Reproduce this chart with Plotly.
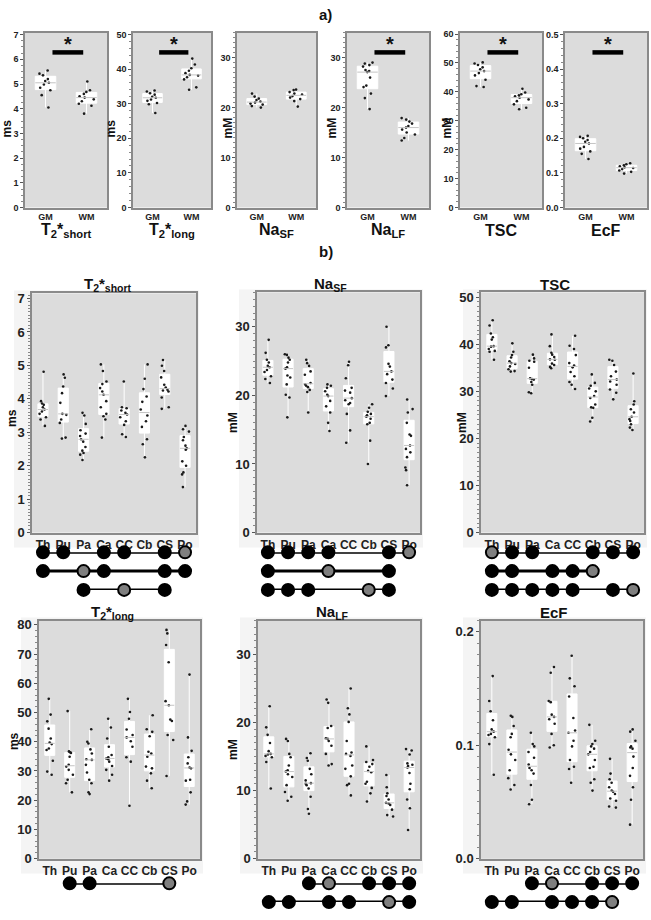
import numpy as np
import plotly.graph_objects as go

W, H = 651, 920

regions = ["Th", "Pu", "Pa", "Ca", "CC", "Cb", "CS", "Po"]
tissues = ["GM", "WM"]

# ---------------- a) GM vs WM ----------------
a_t2short = [[5.55, 5.42, 5.35, 5.2, 5.12, 5.05, 4.98, 4.85, 4.75, 4.55, 4.05],
             [5.1, 4.75, 4.68, 4.6, 4.5, 4.45, 4.38, 4.3, 4.2, 4.12, 3.8]]
a_t2long = [[33.8, 33.5, 33.0, 32.6, 32.0, 31.7, 31.2, 30.8, 30.2, 29.8, 27.3],
            [43.0, 41.3, 40.2, 39.5, 38.8, 38.3, 38.1, 37.6, 37.0, 34.7, 34.0]]
a_nasf = [[22.8, 22.2, 21.8, 21.5, 21.2, 21.0, 20.8, 20.6, 20.3, 20.0],
          [23.6, 23.5, 23.1, 22.8, 22.6, 22.3, 22.0, 21.7, 21.3, 20.2]]
a_nalf = [[29.0, 28.8, 28.5, 28.2, 27.5, 27.3, 27.1, 26.0, 24.4, 24.1, 22.8, 21.9, 19.7],
          [17.9, 17.6, 17.2, 16.8, 16.3, 16.0, 15.6, 15.0, 14.6, 13.9, 13.4]]
a_tsc = [[50.2, 49.8, 49.3, 48.5, 47.8, 47.2, 46.5, 45.7, 44.2, 42.0, 41.7],
         [41.1, 39.8, 39.2, 38.8, 38.5, 38.0, 37.4, 36.8, 35.7, 34.5, 34.0]]
a_ecf = [[0.207, 0.204, 0.200, 0.195, 0.190, 0.185, 0.175, 0.170, 0.162, 0.155, 0.140],
         [0.128, 0.125, 0.122, 0.119, 0.116, 0.114, 0.111, 0.107, 0.103, 0.098]]

# ---------------- b) regions ----------------
b_t2short = [
    [4.81, 3.93, 3.86, 3.82, 3.75, 3.68, 3.62, 3.55, 3.45, 3.38, 3.19],
    [4.73, 4.63, 4.37, 4.17, 3.88, 3.55, 3.52, 3.38, 3.28, 2.84, 2.81],
    [3.58, 3.5, 3.25, 3.06, 2.96, 2.89, 2.79, 2.72, 2.56, 2.45, 2.38, 2.33, 2.17],
    [5.03, 4.83, 4.52, 4.44, 4.32, 4.22, 4.12, 3.93, 3.75, 3.55, 3.48, 3.38, 2.84],
    [4.52, 3.75, 3.72, 3.65, 3.58, 3.53, 3.45, 3.33, 3.22, 2.94, 2.86],
    [5.03, 4.6, 4.29, 4.07, 3.91, 3.68, 3.5, 3.33, 3.16, 2.79, 2.64, 2.25],
    [5.16, 4.99, 4.83, 4.64, 4.42, 4.34, 4.27, 4.25, 4.22, 4.04, 3.75, 3.70],
    [3.19, 3.09, 3.02, 2.86, 2.76, 2.6, 2.52, 2.48, 2.13, 2.0, 1.8, 1.74, 1.36]]
b_nasf = [
    [28.1, 26.2, 25.2, 24.8, 24.3, 24.1, 23.7, 23.4, 22.8, 22.4, 21.8],
    [26.0, 25.9, 25.5, 25.2, 24.8, 24.1, 23.9, 22.9, 22.6, 21.6, 20.1, 19.7, 16.8],
    [25.2, 24.7, 24.3, 23.5, 23.0, 21.8, 21.6, 21.4, 21.2, 20.8, 20.5, 17.5],
    [21.6, 21.4, 21.1, 20.6, 20.1, 19.9, 19.2, 18.4, 17.5, 16.0, 14.8],
    [24.9, 24.4, 22.5, 21.1, 20.7, 20.4, 19.6, 19.3, 18.9, 18.7, 17.3, 14.9, 13.1],
    [18.7, 18.2, 17.6, 17.3, 17.1, 16.9, 16.6, 16.0, 15.8, 13.4, 10.0],
    [30.0, 27.3, 27.0, 24.6, 24.2, 23.5, 23.1, 22.3, 21.8, 21.0, 19.9],
    [19.4, 18.0, 17.5, 16.0, 14.3, 14.1, 12.7, 12.2, 11.7, 11.0, 9.5, 9.1, 6.9]]
b_tsc = [
    [45.1, 44.0, 42.3, 41.5, 41.0, 39.6, 39.5, 39.0, 38.6, 38.4, 36.7],
    [40.2, 38.4, 37.7, 37.2, 36.4, 36.0, 35.8, 35.3, 34.7, 34.3, 34.2],
    [37.8, 37.0, 36.5, 36.3, 35.0, 32.8, 32.6, 32.5, 32.0, 31.4, 29.8, 29.6],
    [42.1, 39.6, 38.2, 37.8, 37.3, 36.8, 36.7, 35.9, 35.6, 35.2, 34.9],
    [41.8, 39.7, 39.0, 37.7, 36.0, 35.5, 35.1, 34.1, 33.2, 32.0, 31.4, 30.5],
    [33.6, 31.8, 31.2, 30.6, 30.0, 29.0, 28.6, 27.2, 26.6, 26.5, 24.4, 23.6],
    [36.7, 36.5, 35.6, 34.2, 33.2, 32.5, 32.1, 31.4, 30.4, 29.7, 28.3],
    [33.8, 27.9, 27.2, 26.2, 25.5, 24.6, 24.1, 23.7, 23.0, 22.3, 21.8]]
b_t2long = [
    [54.7, 49.3, 47.0, 44.5, 41.1, 39.7, 39.2, 37.7, 37.2, 33.5, 29.8, 28.7],
    [50.5, 36.7, 36.4, 36.2, 34.9, 32.1, 31.5, 30.4, 28.7, 27.0, 25.8, 22.7],
    [44.3, 40.0, 39.4, 37.4, 36.0, 34.0, 33.8, 32.1, 29.5, 27.0, 25.8, 22.7, 22.1],
    [47.9, 44.9, 41.1, 38.3, 35.5, 34.7, 34.3, 34.0, 33.2, 31.7, 30.4, 28.7, 26.7],
    [54.7, 50.2, 47.9, 44.2, 42.3, 41.5, 40.2, 38.3, 34.7, 33.2, 18.1],
    [49.1, 44.3, 43.4, 41.9, 36.6, 36.0, 34.9, 31.5, 30.9, 29.2, 26.7, 24.1],
    [78.3, 77.1, 73.1, 67.2, 53.9, 52.5, 47.6, 47.1, 42.3, 40.6, 28.3],
    [63.0, 41.5, 36.9, 34.7, 32.6, 31.2, 30.9, 27.0, 26.7, 22.7, 19.6, 18.5]]
b_nalf = [
    [22.4, 19.3, 18.2, 17.0, 15.8, 15.4, 15.3, 15.1, 14.9, 14.2, 10.3],
    [17.6, 17.3, 15.4, 14.9, 13.7, 13.0, 12.8, 12.4, 12.0, 10.8, 9.8, 9.1, 8.5],
    [15.5, 14.8, 14.4, 13.2, 12.4, 11.5, 11.1, 11.0, 10.8, 10.3, 9.1, 7.3, 6.6],
    [23.4, 22.9, 19.5, 19.2, 17.7, 17.6, 17.3, 16.6, 15.4, 13.9, 13.7],
    [25.0, 22.1, 21.2, 20.1, 17.3, 15.6, 15.4, 15.1, 13.7, 13.2, 12.1, 11.0, 10.8, 9.3],
    [16.5, 14.5, 14.2, 13.9, 13.5, 12.9, 12.7, 11.3, 11.0, 10.4, 9.6, 8.4],
    [12.3, 10.5, 9.6, 9.2, 8.7, 8.2, 8.1, 7.9, 7.2, 6.4, 6.2],
    [16.1, 15.9, 15.3, 14.0, 13.8, 13.6, 13.4, 12.6, 11.0, 10.2, 8.7, 7.4, 4.2]]
b_ecf = [
    [0.161, 0.139, 0.130, 0.122, 0.114, 0.112, 0.110, 0.109, 0.107, 0.101, 0.074],
    [0.126, 0.125, 0.117, 0.110, 0.107, 0.096, 0.092, 0.087, 0.078, 0.071, 0.065, 0.061],
    [0.111, 0.101, 0.099, 0.094, 0.089, 0.083, 0.080, 0.078, 0.075, 0.065, 0.052, 0.048],
    [0.169, 0.164, 0.139, 0.138, 0.127, 0.125, 0.123, 0.119, 0.110, 0.100, 0.098],
    [0.179, 0.159, 0.152, 0.143, 0.124, 0.113, 0.111, 0.104, 0.099, 0.087, 0.081, 0.079, 0.067],
    [0.118, 0.104, 0.101, 0.099, 0.097, 0.094, 0.092, 0.087, 0.081, 0.080, 0.070, 0.067, 0.060],
    [0.088, 0.075, 0.070, 0.067, 0.063, 0.060, 0.059, 0.057, 0.053, 0.051, 0.046, 0.045],
    [0.114, 0.112, 0.104, 0.099, 0.098, 0.097, 0.090, 0.080, 0.073, 0.063, 0.052, 0.030]]

# significant pairwise differences: (members of a row, the highlighted member)
dots_t2short = [(["Th", "Pu", "Ca", "CC", "CS", "Po"], "Po"),
                (["Th", "Pa", "Ca", "CS", "Po"], "Pa"),
                (["Pa", "CC", "CS"], "CC")]
dots_nasf = [(["Th", "Pu", "Pa", "Ca", "CS", "Po"], "Po"),
             (["Th", "Ca", "CS"], "Ca"),
             (["Th", "Pu", "Pa", "Cb", "CS"], "Cb")]
dots_tsc = [(["Th", "Pu", "Pa", "Cb", "CS", "Po"], "Th"),
            (["Th", "Pu", "Ca", "CC", "Cb"], "Cb"),
            (["Th", "Pu", "Pa", "Ca", "CC", "CS", "Po"], "Po")]
dots_t2long = [(["Pu", "Pa", "CS"], "CS")]
dots_nalf = [(["Pa", "Ca", "Cb", "CS", "Po"], "Ca"),
             (["Th", "Pu", "Ca", "CC", "CS", "Po"], "CS")]
dots_ecf = [(["Pa", "Ca", "Cb", "CS", "Po"], "Ca"),
            (["Th", "Pu", "Ca", "CC", "Cb", "CS"], "CS")]

T2S = "T<sub>2</sub>*<sub>short</sub>"
T2L = "T<sub>2</sub>*<sub>long</sub>"
NASF = "Na<sub>SF</sub>"
NALF = "Na<sub>LF</sub>"

FONT = "Liberation Sans, Arial, sans-serif"

def px_x(x0, x1):
    return [x0 / W, x1 / W]

def px_y(y0, y1):
    return [1 - y1 / H, 1 - y0 / H]

def ax(n):
    return ("x" if n == 1 else f"x{n}", "y" if n == 1 else f"y{n}")

fig = go.Figure()
layout = {}
shapes = []
annotations = []

def panel(n, data, cats, xpx, ypx, yrange, dtick, minor, tickfmt, ytitle, ytitle_px,
          title, title_px, tick_size, xtick_size, title_size, sig, cat_range):
    xa, ya = ax(n)
    xs, ys = [], []
    for i, vals in enumerate(data):
        xs += [i] * len(vals)
        ys += vals
    fig.add_trace(go.Box(x=xs, y=ys, xaxis=xa, yaxis=ya, boxpoints=False, width=0.5,
                         fillcolor="white", line=dict(color="white", width=1),
                         whiskerwidth=0, showlegend=False, hoverinfo="skip"))
    fig.add_trace(go.Box(x=xs, y=ys, xaxis=xa, yaxis=ya, boxpoints="all", jitter=0.8,
                         pointpos=0, width=0.5, fillcolor="rgba(0,0,0,0)",
                         line=dict(color="rgba(0,0,0,0)", width=0),
                         marker=dict(color="#1a1a1a", size=2.6),
                         showlegend=False, hoverinfo="skip"))
    for i, vals in enumerate(data):
        m = float(np.median(vals))
        shapes.append(dict(type="line", xref=xa, yref=ya, x0=i - 0.25, x1=i + 0.25,
                           y0=m, y1=m, line=dict(color="#c4c4c4", width=1), layer="above"))
    shapes.append(dict(type="rect", xref=f"{xa} domain", yref=f"{ya} domain",
                       x0=0, x1=1, y0=0, y1=1, fillcolor="#dcdcdc",
                       line=dict(width=0), layer="below"))
    xkey = "xaxis" if n == 1 else f"xaxis{n}"
    ykey = "yaxis" if n == 1 else f"yaxis{n}"
    layout[xkey] = dict(domain=px_x(*xpx), anchor=ya, range=cat_range,
                        tickvals=list(range(len(cats))), ticktext=cats, ticks="",
                        showline=True, mirror=True, linecolor="#8a8a8a", linewidth=1.5,
                        showgrid=False, zeroline=False,
                        tickfont=dict(family=FONT, size=xtick_size, color="#222", weight="bold"))
    layout[ykey] = dict(domain=px_y(*ypx), anchor=xa, range=yrange, dtick=dtick, tick0=0,
                        ticks="outside", ticklen=3, tickcolor="#555", tickformat=tickfmt,
                        minor=dict(ticks="outside", ticklen=2, tickcolor="#888", dtick=minor),
                        showline=True, mirror=True, linecolor="#8a8a8a", linewidth=1.5,
                        showgrid=False, zeroline=False,
                        tickfont=dict(family=FONT, size=tick_size, color="#222", weight="bold"))
    if ytitle:
        annotations.append(dict(text=ytitle, x=ytitle_px[0] / W, y=1 - ytitle_px[1] / H,
                                xref="paper", yref="paper", showarrow=False, textangle=-90,
                                xanchor="center", yanchor="middle",
                                font=dict(family=FONT, size=ytitle_px[2], color="#111", weight="bold")))
    annotations.append(dict(text=title, x=title_px[0] / W, y=1 - title_px[1] / H,
                            xref="paper", yref="paper", showarrow=False,
                            xanchor="center", yanchor="middle",
                            font=dict(family=FONT, size=title_size, color="#111", weight="bold")))
    if sig:
        shapes.append(dict(type="line", xref=xa, yref=f"{ya} domain", x0=0.17, x1=0.92,
                           y0=0.887, y1=0.887, line=dict(color="black", width=4.5), layer="above"))
        annotations.append(dict(text="*", x=0.545, y=0.935, xref=xa, yref=f"{ya} domain",
                                showarrow=False, xanchor="center", yanchor="middle",
                                font=dict(family=FONT, size=20, color="#111", weight="bold")))

def dots(n, rows, cats, xpx, row_px, cat_range):
    xa, ya = ax(n)
    nslots = 3 if row_px[1] - row_px[0] > 25 else 2
    for r, (members, hl) in enumerate(rows):
        idx = [cats.index(c) for c in members]
        fig.add_trace(go.Scatter(x=[min(idx), max(idx)], y=[r, r], xaxis=xa, yaxis=ya,
                                 mode="lines", line=dict(color="black", width=3),
                                 showlegend=False, hoverinfo="skip", cliponaxis=False))
        fig.add_trace(go.Scatter(x=idx, y=[r] * len(idx), xaxis=xa, yaxis=ya, mode="markers",
                                 marker=dict(size=12, color=["#7f7f7f" if c == hl else "black" for c in members],
                                             line=dict(color="black", width=2)),
                                 showlegend=False, hoverinfo="skip", cliponaxis=False))
    layout[f"xaxis{n}"] = dict(domain=px_x(*xpx), anchor=ya, range=cat_range, visible=False)
    layout[f"yaxis{n}"] = dict(domain=px_y(*row_px), anchor=xa, range=[nslots - 1, 0], visible=False)

# ---- a) panels ----
A_Y = (30, 207)
AR = [-0.5, 1.5]
panel(1, a_t2short, tissues, (25, 107), A_Y, [0, 7.08], 1, 0.25, None, "ms", (7, 127, 12),
      T2S, (66, 230), 9, 9, 16, True, AR)
panel(2, a_t2long, tissues, (133, 211), A_Y, [0, 50.5], 10, 2, None, "ms", (111, 127, 12),
      T2L, (172, 230), 9, 9, 16, True, AR)
panel(3, a_nasf, tissues, (237, 316), A_Y, [0, 35], 10, 1, None, "mM", (228, 127, 12),
      NASF, (276, 230), 9, 9, 16, False, AR)
panel(4, a_nalf, tissues, (347, 429), A_Y, [0, 35], 10, 1, None, "mM", (332, 127, 12),
      NALF, (388, 230), 9, 9, 16, True, AR)
panel(5, a_tsc, tissues, (460, 542), A_Y, [0, 60.5], 10, 2, None, "mM", (447, 127, 12),
      "TSC", (501, 230), 9, 9, 16, True, AR)
panel(6, a_ecf, tissues, (565, 647), A_Y, [0, 0.505], 0.1, 0.02, ".1f", None, None,
      "EcF", (606, 230), 9, 9, 16, True, AR)

# ---- b) panels ----
BR = [-0.54, 7.54]
panel(7, b_t2short, regions, (32, 196), (294, 536), [0, 7.15], 1, 0.1, None, "ms", (12, 420, 12),
      T2S, (108, 285), 13, 12, 15, False, BR)
panel(8, b_nasf, regions, (257, 420), (293, 536), [0, 35], 10, 1, None, "mM", (233, 425, 12),
      NASF, (331, 285), 13, 12, 15, False, BR)
panel(9, b_tsc, regions, (481, 644), (293, 536), [0, 51], 10, 1, None, "mM", (462, 425, 12),
      "TSC", (555, 285), 13, 12, 15, False, BR)
panel(10, b_t2long, regions, (39, 200), (625, 866), [0, 81.5], 10, 2, None, "ms", (14, 747, 12),
      T2L, (113, 617), 13, 12, 15, False, BR)
panel(11, b_nalf, regions, (258, 420), (625, 866), [0, 35], 10, 1, None, "mM", (233, 756, 12),
      NALF, (332, 617), 13, 12, 15, False, BR)
panel(12, b_ecf, regions, (481, 643), (625, 866), [0, 0.21], 0.1, 0.01, ".1f", None, None,
      "EcF", (554, 617), 13, 12, 15, False, BR)

# ---- dot diagrams under b) panels ----
dots(13, dots_t2short, regions, (32, 196), (556, 594), BR)
dots(14, dots_nasf, regions, (257, 420), (556, 594), BR)
dots(15, dots_tsc, regions, (481, 644), (556, 594), BR)
dots(16, dots_t2long, regions, (39, 200), (891, 910), BR)
dots(17, dots_nalf, regions, (258, 420), (891, 910), BR)
dots(18, dots_ecf, regions, (481, 643), (891, 910), BR)

# light backing behind b) panels
for (x0, x1), (y0, y1) in [((32, 196), (294, 536)), ((257, 420), (293, 536)), ((481, 644), (293, 536)),
                           ((39, 200), (625, 866)), ((258, 420), (625, 866)), ((481, 643), (625, 866))]:
    shapes.insert(0, dict(type="rect", xref="paper", yref="paper", x0=(x0 - 18) / W, x1=(x1 + 3) / W,
                          y0=1 - (y1 + 15) / H, y1=1 - (y0 - 3) / H, fillcolor="#f4f4f4",
                          line=dict(width=0), layer="below"))

annotations.append(dict(text="a)", x=0.5, y=1 - 12 / H, xref="paper", yref="paper", showarrow=False,
                        xanchor="center", yanchor="middle",
                        font=dict(family=FONT, size=15, color="#111", weight="bold")))
annotations.append(dict(text="b)", x=0.5, y=1 - 252 / H, xref="paper", yref="paper", showarrow=False,
                        xanchor="center", yanchor="middle",
                        font=dict(family=FONT, size=15, color="#111", weight="bold")))

fig.update_layout(width=W, height=H, autosize=False, margin=dict(l=0, r=0, t=0, b=0),
                  paper_bgcolor="white", plot_bgcolor="rgba(0,0,0,0)",
                  boxmode="overlay", showlegend=False,
                  shapes=shapes, annotations=annotations, **layout)

fig.write_html("out.html", config={"displayModeBar": False, "responsive": False},
               post_script="document.documentElement.style.margin='0px';"
                           "document.body.style.margin='0px';"
                           "document.documentElement.style.overflow='hidden';"
                           "document.body.style.overflow='hidden';")
